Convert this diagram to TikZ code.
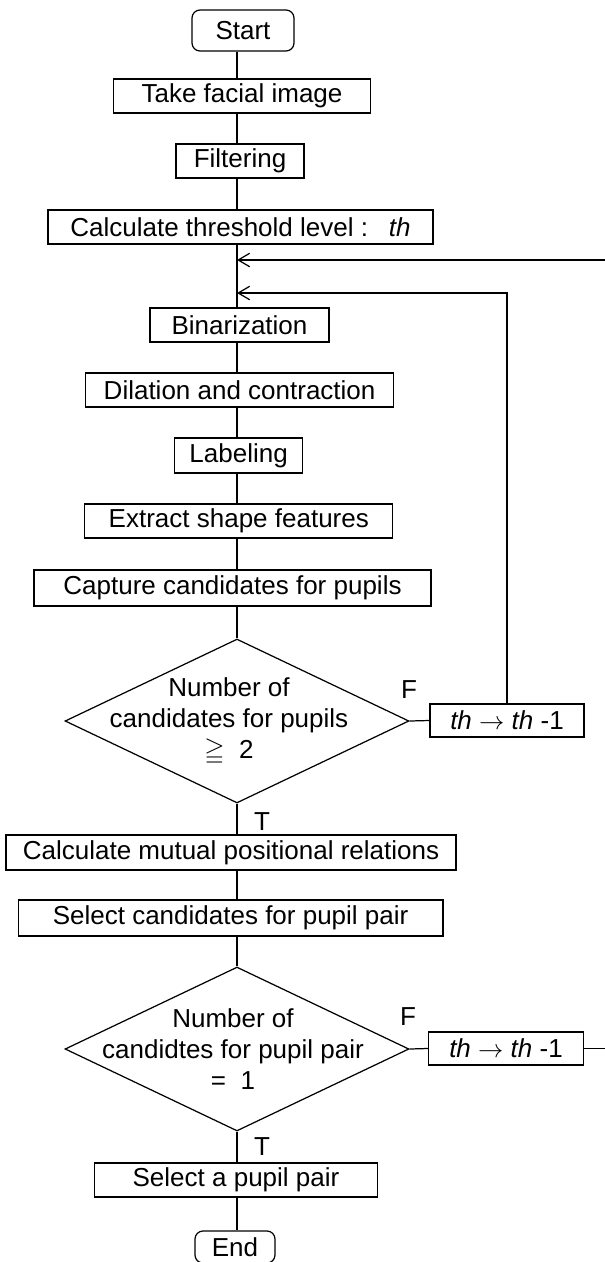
\documentclass[tikz,border=0pt]{standalone}
\usepackage{amsmath,amssymb}
\usepackage{fontspec}
\setmainfont{Liberation Sans}
\usetikzlibrary{shapes.geometric, arrows.meta, positioning, calc}

\begin{document}
\begin{tikzpicture}[
    x=0.02cm, y=-0.02cm,
    line width=0.7pt,
    every node/.style={font=\fontsize{14.8}{17.6}\selectfont},
    block/.style={rectangle, draw, inner sep=0pt, minimum height=0.68cm},
    term/.style={rectangle, draw, rounded corners=0.16cm, inner sep=0pt, minimum height=0.82cm},
    decision/.style={diamond, draw, inner sep=0pt, minimum width=6.88cm, minimum height=3.28cm},
    line/.style={draw},
    back/.style={draw, -{Straight Barb[length=2.3mm, width=2.7mm]}}
]
    \useasboundingbox (0,0) rectangle (605,1262);
    \clip (0,0) rectangle (605,1262);

    % Nodes
    \coordinate (axis) at (237,0);
    \node [term, minimum width=2.04cm] (start) at (243,30.5) {Start};
    \node [block, minimum width=5.14cm] (take) at (242,96) {Take facial image};
    \node [block, minimum width=2.56cm] (filter) at (240,161) {Filtering};
    \node [block, minimum width=7.7cm] (thresh) at (240.5,227) {Calculate threshold level :\hspace{0.8em}\textit{th}};
    \coordinate (joinA) at (237,260);
    \coordinate (joinB) at (237,293);
    \node [block, minimum width=3.58cm] (binar) at (239.5,325) {Binarization};
    \node [block, minimum width=6.16cm] (dilate) at (239.6,390) {Dilation and contraction};
    \node [block, minimum width=2.57cm, minimum height=0.7cm] (label) at (238.6,455.5) {Labeling};
    \node [block, minimum width=6.16cm] (extract) at (238.8,521) {Extract shape features};
    \node [block, minimum width=7.94cm, minimum height=0.72cm] (capture) at (232.5,588) {Capture candidates for pupils};
    \node [decision] (numpup) at (237,721) {};
    \node [align=center] (numpuptxt) at (229,721) {Number of\\candidates for pupils\\$\geqq$\ \ 2};
    \node [block, minimum width=3.08cm, minimum height=0.66cm] (thdecA) at (507,720.5) {\textit{th} $\rightarrow$ \textit{th} -1};
    \node (falseA) at (409,690) {F};
    \node (trueA) at (262,822) {T};
    \node [block, minimum width=9.0cm, minimum height=0.7cm] (mutual) at (231,852.5) {Calculate mutual positional relations};
    \node [block, minimum width=8.5cm, minimum height=0.72cm] (selcand) at (230.6,918) {Select candidates for pupil pair};
    \node [decision] (numpair) at (237,1049) {};
    \node [align=center] (numpairtxt) at (233,1049) {Number of\\candidtes for pupil pair\\=\ \ 1};
    \node [block, minimum width=3.1cm, minimum height=0.66cm] (thdecB) at (506,1048.5) {\textit{th} $\rightarrow$ \textit{th} -1};
    \node (falseB) at (408,1017) {F};
    \node (trueB) at (262,1147) {T};
    \node [block, minimum width=5.66cm] (selpair) at (236,1180) {Select a pupil pair};
    \node [term, minimum width=1.6cm, minimum height=0.64cm] (end) at (235,1247) {End};

    % Paths
    \foreach \a/\b in {start/take, take/filter, filter/thresh, binar/dilate, dilate/label,
                       label/extract, extract/capture, mutual/selcand, selpair/end}
        \path [line] (\a.south -| axis) -- (\b.north -| axis);
    \path [line] (thresh.south -| axis) -- (binar.north -| axis);
    \path [line] (capture.south -| axis) -- (numpup.north);
    \path [line] (numpup.south) -- (mutual.north -| numpup);
    \path [line] (selcand.south -| axis) -- (numpair.north);
    \path [line] (numpair.south) -- (selpair.north -| numpair);
    \path [line] (numpup.east) -- (thdecA.west);
    \path [line] (numpair.east) -- (thdecB.west);
    \path [back] (thdecA.north) |- (joinB);
    \path [back] (thdecB.east) -- ++(30,0) |- (joinA);
\end{tikzpicture}
\end{document}
